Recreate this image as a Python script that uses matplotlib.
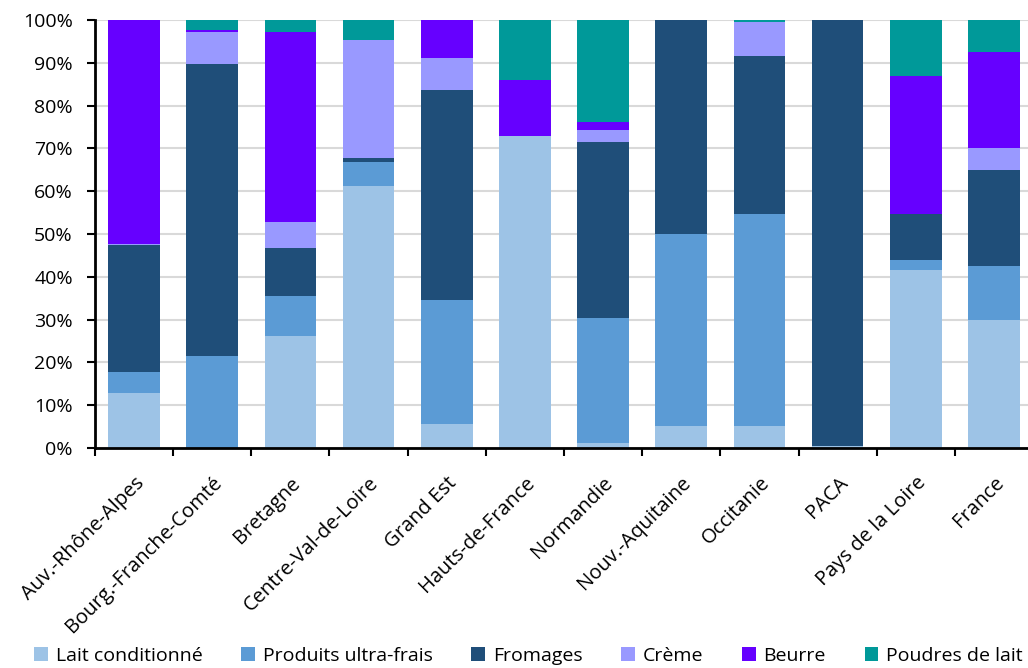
import numpy as np
import matplotlib.pyplot as plt
from matplotlib.ticker import PercentFormatter

plt.rcParams['font.family'] = ['Open Sans', 'DejaVu Sans']

regions = ['Auv.-Rhône-Alpes', 'Bourg.-Franche-Comté', 'Bretagne', 'Centre-Val-de-Loire',
           'Grand Est', 'Hauts-de-France', 'Normandie', 'Nouv.-Aquitaine', 'Occitanie',
           'PACA', 'Pays de la Loire', 'France']

# share of each product in regional output (%)
lait = [12.8, 0.0, 26.2, 61.3, 5.5, 72.8, 1.1, 5.2, 5.1, 0.5, 41.5, 29.9]
ultra_frais = [5.0, 21.5, 9.3, 5.5, 29.0, 0.0, 29.2, 44.8, 49.5, 0.0, 2.4, 12.7]
fromages = [29.6, 68.2, 11.3, 0.9, 49.1, 0.0, 41.2, 50.0, 36.9, 99.5, 10.8, 22.3]
creme = [0.3, 7.5, 6.0, 27.6, 7.5, 0.0, 2.8, 0.0, 8.1, 0.0, 0.0, 5.2]
beurre = [52.3, 0.4, 44.3, 0.0, 8.9, 13.1, 1.8, 0.0, 0.0, 0.0, 32.2, 22.4]
poudres = [0.0, 2.4, 2.9, 4.7, 0.0, 14.1, 23.9, 0.0, 0.4, 0.0, 13.1, 7.5]

series = [
    ('Lait conditionné', lait, '#9DC3E6'),
    ('Produits ultra-frais', ultra_frais, '#5B9BD5'),
    ('Fromages', fromages, '#1F4E79'),
    ('Crème', creme, '#9999FF'),
    ('Beurre', beurre, '#6600FF'),
    ('Poudres de lait', poudres, '#009999'),
]

fs = 14

fig = plt.figure(figsize=(10.28, 6.68), dpi=100)
ax = fig.add_axes([95 / 1028, 220 / 668, 938 / 1028, 428 / 668])

x = np.arange(len(regions))
bottom = np.zeros(len(regions))
for name, vals, color in series:
    vals = np.array(vals)
    ax.bar(x, vals, width=0.66, bottom=bottom, color=color, label=name, zorder=2)
    bottom += vals

ax.set_xlim(-0.5, len(regions) - 0.5)
ax.set_ylim(0, 100)
ax.set_yticks(np.arange(0, 101, 10))
ax.yaxis.set_major_formatter(PercentFormatter(decimals=0))
ax.grid(axis='y', color='#D9D9D9', linewidth=1.5, zorder=0)

# category labels between boundary ticks
ax.set_xticks(x)
ax.set_xticklabels(regions, rotation=45, ha='right', rotation_mode='anchor', fontsize=14.5)
ax.tick_params(axis='x', length=0, pad=18)
ax.set_xticks(np.arange(-0.5, len(regions), 1), minor=True)
ax.tick_params(axis='x', which='minor', length=6, width=1.5, direction='out')
ax.tick_params(axis='y', labelsize=fs, length=6, width=1.5, direction='out', pad=10)

for side in ['top', 'right']:
    ax.spines[side].set_visible(False)
ax.spines['left'].set_linewidth(2)
ax.spines['bottom'].set_linewidth(2)

fig.legend(loc='center', bbox_to_anchor=(0.514, 12 / 668), ncol=6, frameon=False,
           fontsize=fs, handlelength=0.7, handleheight=0.7, handletextpad=0.4,
           columnspacing=2.0, borderaxespad=0)

fig.savefig('out.png', dpi=100)
